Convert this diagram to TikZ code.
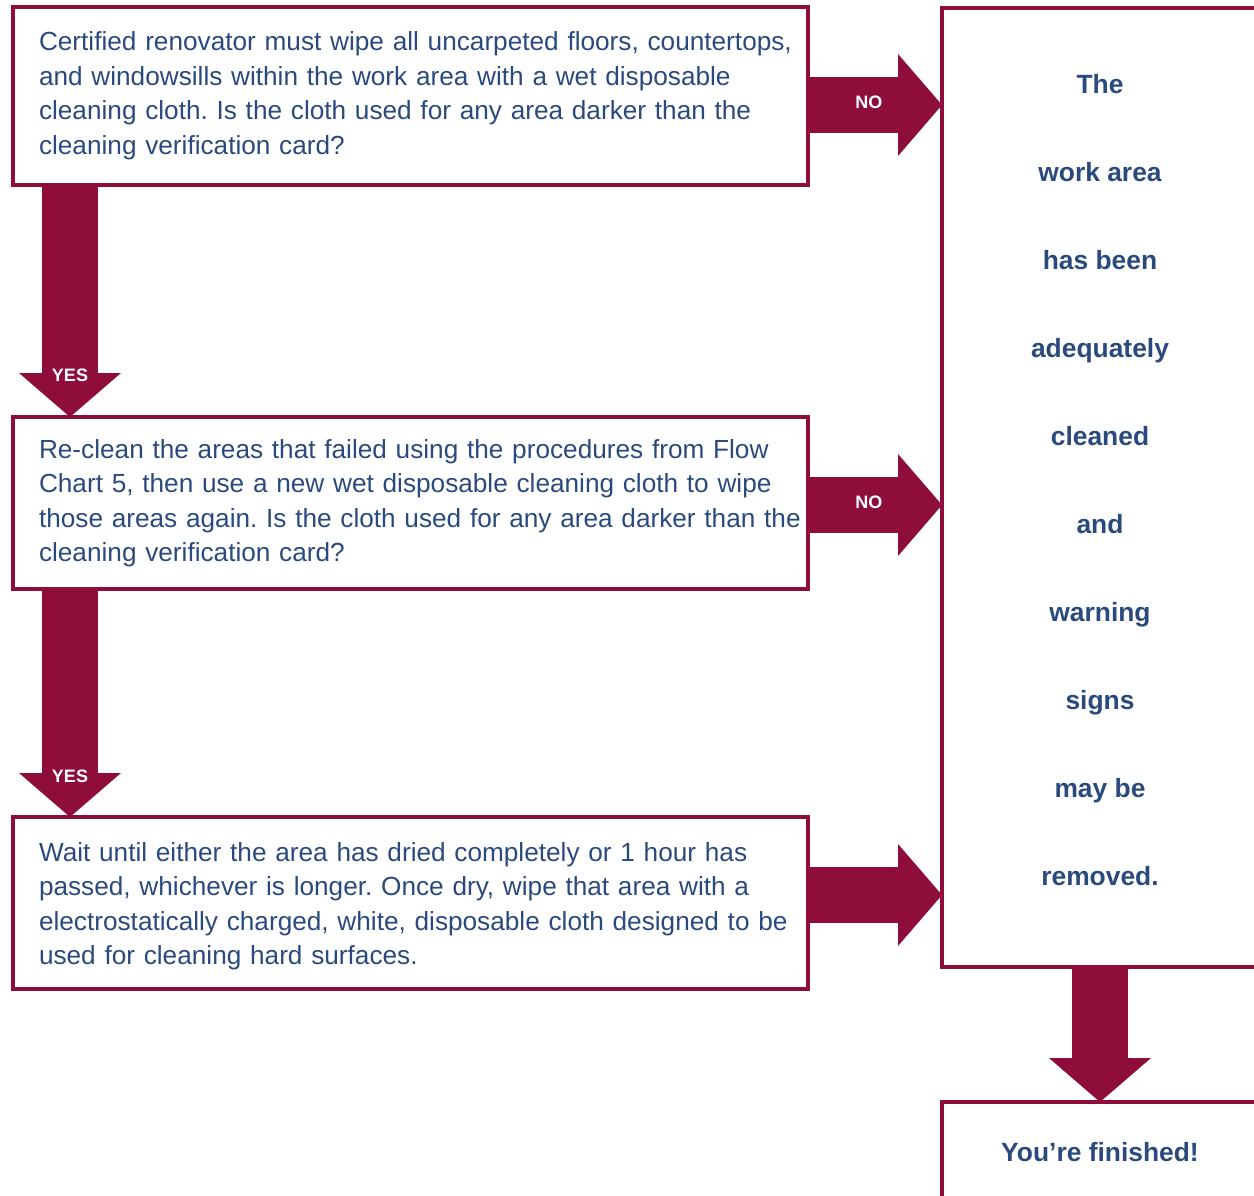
\documentclass[tikz,border=0pt]{standalone}
\usepackage{fontspec}
\setmainfont{Liberation Sans}
\usetikzlibrary{arrows.meta}
\definecolor{wine}{HTML}{8E0D3A}
\definecolor{ink}{HTML}{2A4A7E}
\frenchspacing
\tikzset{
  qbox/.style={draw=wine, line width=4pt, outer sep=0pt, anchor=north west, minimum width=795pt, minimum height=#1, inner xsep=5pt, inner ysep=0pt, text width=785pt, align=left, text=ink, font=\fontsize{26.2}{34.5}\selectfont},
  rbox/.style={draw=wine, line width=4pt, outer sep=0pt, anchor=north west, minimum width=316pt, inner sep=0pt, align=center, text=ink, font=\bfseries\fontsize{26.4}{88}\selectfont},
  fat/.style={wine, line width=56pt, -{Triangle[length=44pt,width=102pt,line width=0pt]}},
  lbl/.style={text=white, font=\bfseries\fontsize{18}{18}\selectfont}
}

\begin{document}
\begin{tikzpicture}[x=1pt,y=-1pt]
\useasboundingbox (0,0) rectangle (1254,1196);

%question boxes
\node[qbox=178pt] (q1) at (13,7) {\leftskip=21pt Certified renovator must wipe all uncarpeted floors, countertops,\\and windowsills within the work area with a wet disposable\\cleaning cloth. Is the cloth used for any area darker than the\\cleaning verification card?\rule[-6pt]{0pt}{6pt}\par};
\node[qbox=172pt] (q2) at (13,417) {\leftskip=21pt Re-clean the areas that failed using the procedures from Flow\\Chart 5, then use a new wet disposable cleaning cloth to wipe\\those areas again. Is the cloth used for any area darker than the\\cleaning verification card?\rule[-4pt]{0pt}{4pt}\par};
\node[qbox=172pt] (q3) at (13,817) {\leftskip=21pt \rule{0pt}{25pt}Wait until either the area has dried completely or 1 hour has\\passed, whichever is longer. Once dry, wipe that area with a\\electrostatically charged, white, disposable cloth designed to be\\used for cleaning hard surfaces.\par};

%result boxes
\node[rbox, minimum height=959pt] (done) at (942,8) {The\\work area\\has been\\adequately\\cleaned\\and\\warning\\signs\\may be\\removed.\rule[-16pt]{0pt}{16pt}};
\node[rbox, minimum height=100pt] (fin) at (942,1102) {You’re finished!};

%fat arrows
\draw[fat] ([yshift=-9pt]q1.east) -- ([yshift=-9pt]q1.east -| done.west) node[lbl,pos=.455,yshift=3pt] {NO};
\draw[fat] ([yshift=-2pt]q2.east) -- ([yshift=-2pt]q2.east -| done.west) node[lbl,pos=.455,yshift=3pt] {NO};
\draw[fat] ([yshift=8pt]q3.east)  -- ([yshift=8pt]q3.east -| done.west);
\draw[fat] ([xshift=57pt]q1.south west) -- ([xshift=57pt]q2.north west) node[lbl,pos=.82] {YES};
\draw[fat] ([xshift=57pt]q2.south west) -- ([xshift=57pt]q3.north west) node[lbl,pos=.82] {YES};
\draw[fat] (done.south) -- (fin.north);
\end{tikzpicture}
\end{document}
